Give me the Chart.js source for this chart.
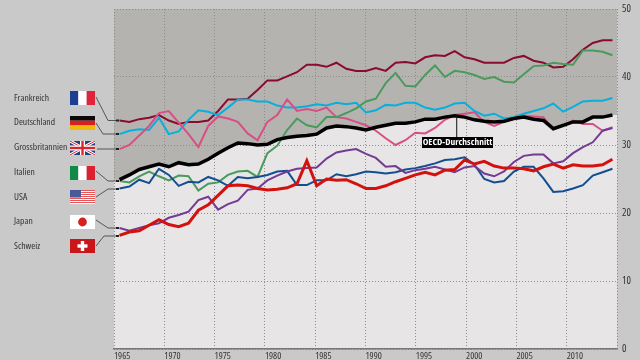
<!DOCTYPE html>
<html><head><meta charset="utf-8">
<script src="https://cdn.jsdelivr.net/npm/chart.js@4"></script>
<style>html,body{margin:0;padding:0;background:#c9c9c9;overflow:hidden}canvas{display:block}</style>
</head><body><canvas id="c" width="640" height="360"></canvas>
<script>
const firstYear = 1965;
const lastYear = 2015;
const yTicks = [0,10,20,30,40,50];
const countries = ["Frankreich","Deutschland","Grossbritannien","Italien","USA","Japan","Schweiz"];
const france = [33.6,33.4,33.8,34.0,34.4,33.6,33.1,33.4,33.4,33.6,35.0,36.7,36.7,36.8,38.1,39.5,39.5,40.1,40.7,41.8,41.8,41.5,42.1,41.2,40.9,40.9,41.3,40.9,42.1,42.2,42.0,42.9,43.2,43.1,43.8,42.9,42.6,42.1,42.1,42.1,42.8,43.1,42.4,42.1,41.4,41.5,42.6,44.0,45.0,45.4,45.4];
const germany = [31.6,32.1,32.3,32.2,34.0,31.6,32.0,33.7,35.1,34.9,34.4,35.5,36.7,36.7,36.4,36.4,35.8,35.5,35.5,35.7,36.0,35.8,36.2,36.0,36.2,34.8,35.1,35.9,35.8,36.2,36.2,35.5,35.2,35.5,36.1,36.2,35.0,34.3,34.6,33.9,34.1,34.6,35.0,35.4,36.1,34.9,35.6,36.4,36.5,36.5,36.9];
const britain = [29.4,30.0,31.4,32.8,34.7,35.0,33.3,31.6,29.7,32.8,34.2,33.9,33.4,31.7,30.7,33.4,34.4,36.7,35.0,35.3,35.0,35.5,34.1,33.9,33.4,32.9,32.1,31.0,30.0,30.7,31.8,31.7,32.5,33.7,34.4,34.6,34.8,33.4,32.8,33.4,33.9,34.3,34.2,34.1,32.3,32.9,33.6,33.1,33.1,32.1,32.6];
const italy = [24.7,24.5,25.4,26.1,25.4,24.8,25.5,25.4,23.3,24.3,24.5,25.6,26.1,26.2,25.3,28.8,29.9,32.2,33.9,32.9,32.6,34.1,34.1,34.7,35.4,36.4,36.8,39.1,40.6,38.7,38.6,40.3,41.7,40.0,40.9,40.7,40.3,39.7,40.0,39.3,39.2,40.4,41.6,41.7,42.1,41.9,41.8,43.9,43.9,43.7,43.2];
const usa = [23.6,23.9,24.9,24.4,26.5,25.6,24.0,24.6,24.5,25.3,24.8,24.0,25.3,25.1,25.3,25.6,26.1,26.2,24.1,24.1,24.8,24.8,25.7,25.4,25.7,26.1,26.0,25.8,26.0,26.4,26.6,26.9,27.3,27.8,27.9,28.2,27.1,25.0,24.5,24.7,26.1,26.8,26.8,25.1,23.1,23.2,23.6,24.1,25.5,26.0,26.5];
const japan = [17.8,17.4,17.8,18.2,18.5,19.3,19.7,20.2,21.9,22.4,20.5,21.3,21.8,23.4,23.6,24.8,25.5,26.1,26.5,26.6,26.7,28.0,28.9,29.2,29.4,28.7,28.1,26.8,26.9,25.9,26.3,26.5,26.8,26.4,26.0,26.7,26.9,25.8,25.4,26.1,27.5,28.4,28.6,28.6,27.3,27.6,28.8,29.7,30.4,32.1,32.5];
const swiss = [16.7,17.2,17.4,18.2,19.0,18.3,18.0,18.5,20.4,21.2,22.6,24.0,24.1,24.0,23.6,23.4,23.5,23.7,24.3,27.7,24.0,25.0,24.8,24.9,24.3,23.6,23.6,24.0,24.6,25.1,25.6,26.0,25.6,26.3,26.4,27.8,27.2,27.6,26.9,26.6,26.6,26.5,26.2,26.8,27.2,26.6,27.1,26.9,26.9,27.1,27.9];
const oecd = [24.9,25.6,26.4,26.8,27.2,26.8,27.4,27.1,27.2,27.9,28.8,29.6,30.3,30.2,30.0,30.1,30.8,31.1,31.3,31.4,31.6,32.5,32.8,32.7,32.5,32.2,32.6,32.9,33.2,33.2,33.4,33.8,33.8,34.1,34.3,34.1,33.7,33.5,33.4,33.5,33.9,34.1,33.8,33.6,32.4,32.9,33.4,33.4,34.1,34.1,34.4];
const oecdLabel = "OECD-Durchschnitt";

const FONT = '"Open Sans",sans-serif';
const pts = a => a.map((v,i)=>({x:firstYear+i,y:v}));
const dataMin = 1964.44, dataMax = 2015.46;
const band = [{x:dataMin,y:oecd[0]},...pts(oecd),{x:dataMax,y:oecd[oecd.length-1]}];
const line = (label,data,color,w,order)=>({label,data:pts(data),borderColor:color,borderWidth:w,order,xAxisID:'xd',fill:false,pointRadius:0,tension:0,borderJoinStyle:'miter',borderCapStyle:'butt'});

function flag(ctx,name,x,y,w,h){
  const r=(c,a,b,cc,d)=>{ctx.fillStyle=c;ctx.fillRect(a,b,cc,d);};
  if(name==="Frankreich"){r('#1c3f94',x,y,w/3,h);r('#fff',x+w/3,y,w/3,h);r('#e0243b',x+2*w/3,y,w/3,h);}
  if(name==="Deutschland"){r('#0a0a0a',x,y,w,h/3);r('#d8201f',x,y+h/3,w,h/3);r('#eeb90a',x,y+2*h/3,w,h/3);}
  if(name==="Italien"){r('#128a47',x,y,w/3,h);r('#fff',x+w/3,y,w/3,h);r('#dc2230',x+2*w/3,y,w/3,h);}
  if(name==="Grossbritannien"){
    r('#24407f',x,y,w,h);ctx.save();ctx.beginPath();ctx.rect(x,y,w,h);ctx.clip();
    const d=(c,lw)=>{ctx.strokeStyle=c;ctx.lineWidth=lw;ctx.beginPath();ctx.moveTo(x,y);ctx.lineTo(x+w,y+h);ctx.moveTo(x+w,y);ctx.lineTo(x,y+h);ctx.stroke();};
    d('#fff',3);d('#d9252f',1);ctx.restore();
    r('#fff',x,y+h/2-2.5,w,5);r('#fff',x+w/2-2.5,y,5,h);r('#d9252f',x,y+h/2-1.2,w,2.4);r('#d9252f',x+w/2-1.2,y,2.4,h);
  }
  if(name==="USA"){
    r('#fff',x,y,w,h);for(let i=0;i<7;i++)r('#e2575a',x,y+i*2,w,1);
    r('#4a5a98',x,y,w*0.44,h*0.54);
  }
  if(name==="Japan"){r('#fff',x,y,w,h);ctx.fillStyle='#d5201f';ctx.beginPath();ctx.arc(x+w/2,y+h/2,4.4,0,7);ctx.fill();}
  if(name==="Schweiz"){r('#c8161a',x,y,w,h);r('#fff',x+w/2-5,y+h/2-1.7,10,3.4);r('#fff',x+w/2-1.7,y+h/2-5,3.4,10);}
}
const rowY=[98,122.5,147.5,172,197,221.5,246];
const flagTop=[91,116,141,166,190,215,239];
const leaders=[[[96,97],[108,120.5],[118,120.5]],[[96,123],[103,134],[118,134]],[[97,149],[118,149]],[[96,171],[108,181],[118,181]],[[96,197],[108,189],[118,189]],[[96,220],[108,228],[118,228]],[[96,246],[104,236],[118,236]]];

const deco={id:'deco',
  afterDatasetsDraw(c){
    const ctx=c.ctx,xs=c.scales.xd,ys=c.scales.y;ctx.save();
    const sx=xs.getPixelForValue(1999),sy=ys.getPixelForValue(oecd[34]);
    ctx.strokeStyle='#111';ctx.lineWidth=1;ctx.beginPath();ctx.moveTo(sx+2,sy);ctx.lineTo(sx+2,138);ctx.stroke();
    ctx.fillStyle='#000';ctx.fillRect(422,137,71,11);
    ctx.fillStyle='#fff';ctx.font='condensed bold 9.5px '+FONT;ctx.textAlign='center';ctx.textBaseline='middle';
    ctx.fillText(oecdLabel,457.5,142.3);
    ctx.restore();
  },
  afterDraw(c){
    const ctx=c.ctx;ctx.save();
    countries.forEach((n,i)=>{
      ctx.fillStyle='#333';ctx.font='condensed 9.6px '+FONT;ctx.textAlign='left';ctx.textBaseline='middle';
      ctx.fillText(n,14,rowY[i]);
      flag(ctx,n,70,flagTop[i],25,14);
      ctx.strokeStyle='#555';ctx.lineWidth=1;ctx.beginPath();
      leaders[i].forEach((p,k)=>k?ctx.lineTo(p[0],p[1]):ctx.moveTo(p[0],p[1]));ctx.stroke();
      const e=leaders[i][leaders[i].length-1];
      ctx.fillStyle='#222';ctx.fillRect(116,e[1]-1,3,2);
    });
    ctx.restore();
  }
};

new Chart(document.getElementById('c'),{
  type:'line',
  data:{datasets:[
    {label:'above',data:band,xAxisID:'xd',fill:'end',backgroundColor:'#b5b3b0',borderWidth:0,pointRadius:0,order:20},
    {label:'below',data:band,xAxisID:'xd',fill:'start',backgroundColor:'#e7e5e6',borderWidth:0,pointRadius:0,order:21},
    line('Frankreich',france,'#8a0a30',2,8),
    line('Deutschland',germany,'#08afdc',2,7),
    line('Grossbritannien',britain,'#d84f85',2,6),
    line('Italien',italy,'#4a9a5c',2,5),
    line('USA',usa,'#124e90',2,4),
    line('Japan',japan,'#733b94',2,3),
    line('Schweiz',swiss,'#d3120f',3,2),
    line(oecdLabel,oecd,'#000000',3.5,1)
  ]},
  options:{
    responsive:false,animation:false,events:[],
    layout:{padding:{left:114,top:9,right:0,bottom:0}},
    plugins:{legend:{display:false},tooltip:{enabled:false},filler:{drawTime:'beforeDraw',propagate:false}},
    scales:{
      xd:{type:'linear',display:false,min:dataMin,max:dataMax},
      x:{type:'linear',position:'bottom',min:firstYear,max:lastYear,
        afterFit(s){s.height=11;s.paddingLeft=0;s.paddingRight=0;},
        grid:{color:'#8c8c8c',lineWidth:1,drawTicks:false},
        border:{display:true,color:'#777',width:1.5,dash:[1,2]},
        ticks:{stepSize:5,autoSkip:false,maxRotation:0,align:'start',padding:2,color:'#333',font:{family:FONT,size:9.6,weight:'condensed'},callback:v=>v===lastYear?'':String(v)}
      },
      y:{type:'linear',position:'right',min:0,max:50,
        afterFit(s){s.width=23;s.paddingTop=0;s.paddingBottom=0;},
        grid:{color:'#8c8c8c',lineWidth:1,drawTicks:false},
        border:{display:false,dash:[1,2]},
        afterBuildTicks(s){s.ticks=yTicks.map(v=>({value:v}));},
        ticks:{padding:5,color:'#333',font:{family:FONT,size:10.5,weight:'condensed'},callback:v=>String(v)}
      }
    }
  },
  plugins:[deco]
});
</script></body></html>
